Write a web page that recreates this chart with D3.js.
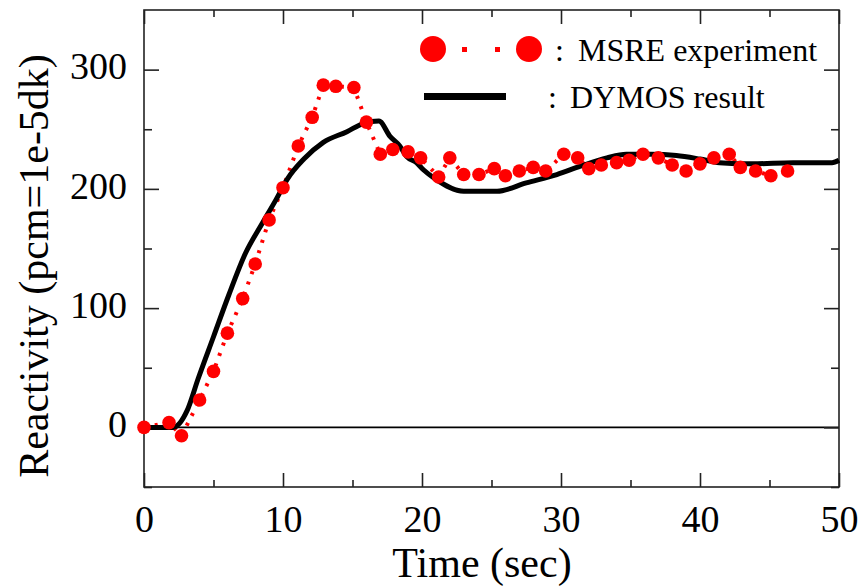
<!DOCTYPE html>
<html>
<head>
<meta charset="utf-8">
<script src="https://cdn.jsdelivr.net/npm/d3@7"></script>
<style>
  body { margin: 0; background: #fff; }
  text { font-family: "Liberation Serif", "Times New Roman", serif; fill: #000; }
</style>
</head>
<body>
<div id="chart"></div>
<script>
// data
var expTime = [0, 1.8, 2.7, 4, 5, 6, 7.1, 8, 9, 10, 11.1, 12.1, 12.9, 13.8, 15.1, 16, 17, 17.9, 19,
  19.9, 21.2, 22, 23, 24.1, 25.2, 26, 27, 28, 28.9, 30.2, 31.2, 32, 32.9, 34, 34.9, 35.9, 37, 38,
  39, 40, 41, 42.1, 42.9, 44, 45.1, 46.3];
var expValue = [0, 4, -7, 23, 47, 79, 108, 137, 174, 201, 236, 260, 287, 286, 285, 256, 229, 233, 231,
  226, 210, 226, 212, 212, 217, 211, 215, 218, 215, 229, 226, 217, 220, 222, 224, 229, 226, 220,
  215, 221, 226, 229, 218, 215, 211, 215];

var simTime = [0, 2.1, 3.1, 3.9, 5, 6.1, 7.3, 8.5, 9.5, 10.3, 11.5, 12.9, 14.6, 15.8, 16.9, 17.7,
  18.4, 18.9, 19.6, 20.1, 21, 23, 25.4, 27.5, 29.7, 31.4, 33.3, 34.7, 36.5, 38.3, 40, 41.4, 43.8,
  46.7, 49.5, 50];
var simValue = [0, 0, 14, 41, 76, 111, 146, 171, 191, 208, 225, 239, 248, 255, 257, 244,
  236, 227, 222, 216, 208, 198, 198, 205, 212, 219, 226, 229, 229, 228, 225, 222, 221,
  222, 222, 224];

var xTicks = [0, 10, 20, 30, 40, 50];
var xMinor = [5, 15, 25, 35, 45];
var yTicks = [0, 100, 200, 300];
var yMinor = [-50, 50, 150, 250];

var legendLabels = ["MSRE experiment", "DYMOS result"];

var width = 861, height = 587;
var margin = { left: 144, top: 10, right: 22, bottom: 100 };
var innerW = width - margin.left - margin.right;
var innerH = height - margin.top - margin.bottom;

var x = d3.scaleLinear().domain([0, 50]).range([0, innerW]);
var y = d3.scaleLinear().domain([-50, 350]).range([innerH, 0]);

var svg = d3.select("#chart").append("svg")
  .attr("width", width)
  .attr("height", height);

var g = svg.append("g")
  .attr("transform", "translate(" + margin.left + "," + margin.top + ")");

// zero line
g.append("line")
  .attr("x1", x(0)).attr("x2", x(50))
  .attr("y1", y(0)).attr("y2", y(0))
  .attr("stroke", "#000")
  .attr("stroke-width", 1.6);

// axes (ticks pointing inward)
function styleAxis(sel) {
  sel.select(".domain").remove();
  sel.selectAll(".tick line").attr("stroke", "#222").attr("stroke-width", 1.6);
  sel.selectAll("text").style("font-size", "38px").attr("fill", "#000");
}

g.append("g").attr("transform", "translate(0," + innerH + ")")
  .call(d3.axisBottom(x).tickValues(xTicks).tickSize(-14).tickPadding(18).tickFormat(d3.format("d")))
  .call(styleAxis);
g.append("g").attr("transform", "translate(0," + innerH + ")")
  .call(d3.axisBottom(x).tickValues(xMinor).tickSize(-7).tickFormat(""))
  .call(styleAxis);
g.append("g")
  .call(d3.axisTop(x).tickValues(xTicks).tickSize(-14).tickFormat(""))
  .call(styleAxis);
g.append("g")
  .call(d3.axisTop(x).tickValues(xMinor).tickSize(-7).tickFormat(""))
  .call(styleAxis);

var yAxisG = g.append("g")
  .call(d3.axisLeft(y).tickValues(yTicks).tickSize(-15).tickPadding(17).tickFormat(d3.format("d")))
  .call(styleAxis);
yAxisG.selectAll("text").attr("dy", "0.24em");
g.append("g")
  .call(d3.axisLeft(y).tickValues(yMinor).tickSize(-8).tickFormat(""))
  .call(styleAxis);
g.append("g").attr("transform", "translate(" + innerW + ",0)")
  .call(d3.axisRight(y).tickValues(yTicks).tickSize(-15).tickFormat(""))
  .call(styleAxis);
g.append("g").attr("transform", "translate(" + innerW + ",0)")
  .call(d3.axisRight(y).tickValues(yMinor).tickSize(-8).tickFormat(""))
  .call(styleAxis);

// frame
g.append("rect")
  .attr("x", 0).attr("y", 0)
  .attr("width", innerW).attr("height", innerH)
  .attr("fill", "none")
  .attr("stroke", "#222")
  .attr("stroke-width", 1.6);

// axis titles
svg.append("text")
  .attr("x", 482)
  .attr("y", 577)
  .attr("text-anchor", "middle")
  .style("font-size", "42px")
  .text("Time (sec)");

svg.append("text")
  .attr("transform", "translate(48,266) rotate(-90)")
  .attr("text-anchor", "middle")
  .style("font-size", "42px")
  .text("Reactivity (pcm=1e-5dk)");

var sim = simTime.map(function (t, i) { return { t: t, v: simValue[i] }; });
var exp = expTime.map(function (t, i) { return { t: t, v: expValue[i] }; });

var line = d3.line()
  .x(function (d) { return x(d.t); })
  .y(function (d) { return y(d.v); });

// experiment dotted connector
g.append("path")
  .datum(exp)
  .attr("d", line)
  .attr("fill", "none")
  .attr("stroke", "#ff0000")
  .attr("stroke-width", 4)
  .attr("stroke-dasharray", "3,8");

// simulation line
g.append("path")
  .datum(sim)
  .attr("d", line.curve(d3.curveMonotoneX))
  .attr("fill", "none")
  .attr("stroke", "#000")
  .attr("stroke-width", 5)
  .attr("stroke-linejoin", "round");

g.selectAll(".pt")
  .data(exp)
  .enter()
  .append("circle")
  .attr("class", "pt")
  .attr("cx", function (d) { return x(d.t); })
  .attr("cy", function (d) { return y(d.v); })
  .attr("r", 6.8)
  .attr("fill", "#ff0000");

// legend
var lg = svg.append("g");
lg.append("circle").attr("cx", 433).attr("cy", 49).attr("r", 13).attr("fill", "#ff0000");
lg.append("circle").attr("cx", 529).attr("cy", 49).attr("r", 13).attr("fill", "#ff0000");
lg.append("rect").attr("x", 462).attr("y", 47).attr("width", 5).attr("height", 5).attr("fill", "#ff0000");
lg.append("rect").attr("x", 495).attr("y", 47).attr("width", 5).attr("height", 5).attr("fill", "#ff0000");
lg.append("rect").attr("x", 424).attr("y", 93).attr("width", 82).attr("height", 7).attr("fill", "#000");

lg.append("text").attr("x", 555).attr("y", 61).style("font-size", "32px").text(":");
lg.append("text").attr("x", 578).attr("y", 61).style("font-size", "32px").text(legendLabels[0]);
lg.append("text").attr("x", 548).attr("y", 108).style("font-size", "32px").text(":");
lg.append("text").attr("x", 570).attr("y", 108).style("font-size", "32px").text(legendLabels[1]);
</script>
</body>
</html>
